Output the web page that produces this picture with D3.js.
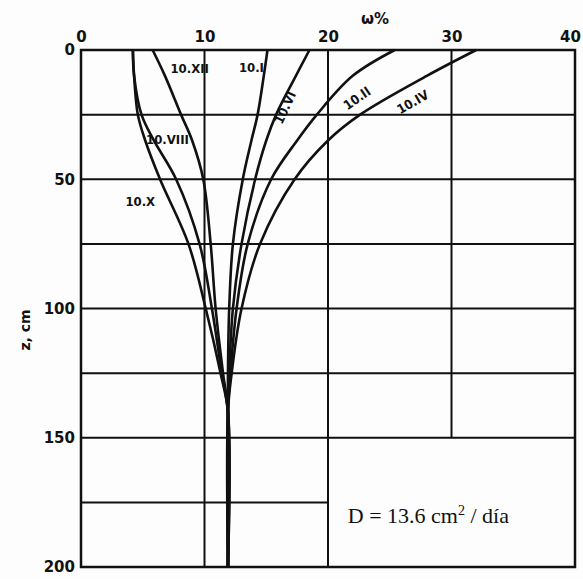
<!DOCTYPE html>
<html>
<head>
<meta charset="utf-8">
<title>Soil moisture profiles</title>
<script src="https://d3js.org/d3.v7.min.js"></script>
<style type="text/css">
body {
	margin: 0;
	background: #fdfdfd;
}
.tick text {
	font-family: "DejaVu Sans", sans-serif;
	font-weight: bold;
	font-size: 15px;
	fill: #111;
}
.curvelabel {
	font-family: "DejaVu Sans Condensed", "DejaVu Sans", sans-serif;
	font-weight: bold;
	font-size: 13px;
	fill: #111;
}
</style>
</head>
<body>
<div id="chart"></div>
<script>

// depth (cm) where the moisture of each profile was read
var depth = [0, 10, 25, 35, 50, 75, 100, 125, 140, 200];

// moisture w% of every profile at those depths
var w_IV   = [32.0, 28.0, 22.6, 20.0, 17.3, 14.5, 13.0, 12.2, 11.9, 11.9];
var w_II   = [25.4, 22.0, 19.1, 17.5, 15.4, 13.5, 12.6, 12.1, 11.9, 11.9];
var w_VI   = [18.5, 17.4, 15.8, 15.0, 14.1, 13.0, 12.3, 12.0, 11.9, 11.9];
var w_I    = [15.1, 14.8, 14.3, 13.8, 13.1, 12.3, 12.0, 11.9, 11.9, 11.9];
var w_XII  = [5.8, 6.8, 8.1, 9.0, 9.9, 10.5, 10.9, 11.5, 11.9, 11.9];
var w_VIII = [4.2, 4.3, 4.9, 5.9, 7.7, 9.6, 10.6, 11.4, 11.9, 11.9];
var w_X    = [4.2, 4.3, 4.6, 5.2, 6.4, 8.7, 10.1, 11.3, 11.9, 11.9];

var curves = [w_IV, w_II, w_VI, w_I, w_XII, w_VIII, w_X];

// tick values
var xTicks = [0, 10, 20, 30, 40];
var yTicks = [0, 50, 100, 150, 200];
var gridZ = [25, 50, 75, 100, 125, 150];

// labels: [text, w, z, rotation]
var labels = [
	["10.XII", 8.8, 7.4, 0],
	["10.I", 13.8, 7.0, 0],
	["10.VI", 16.6, 22.5, -65],
	["10.II", 22.4, 19, -35],
	["10.IV", 26.9, 20.5, -30],
	["10.VIII", 7.0, 35, 0],
	["10.X", 4.8, 59, 0]
];

var width = 583, height = 579;
var margin = {top: 50, right: 8, bottom: 12, left: 81};

var x = d3.scaleLinear().domain([0, 40]).range([margin.left, width - margin.right]);
var y = d3.scaleLinear().domain([0, 200]).range([margin.top, height - margin.bottom]);

var svg = d3.select("#chart").append("svg")
	.attr("width", width)
	.attr("height", height);

var ink = "#111";

// grid lines
var grid = svg.append("g").attr("stroke", ink).attr("stroke-width", 2);
grid.selectAll(".hz")
	.data(gridZ)
	.enter().append("line")
	.attr("x1", x(0))
	.attr("x2", x(40))
	.attr("y1", function(d) { return y(d); })
	.attr("y2", function(d) { return y(d); });
// short line at 175, only under the left part
grid.append("line")
	.attr("x1", x(0)).attr("x2", x(20))
	.attr("y1", y(175)).attr("y2", y(175));
grid.selectAll(".vt")
	.data([10, 20])
	.enter().append("line")
	.attr("x1", function(d) { return x(d); })
	.attr("x2", function(d) { return x(d); })
	.attr("y1", y(0))
	.attr("y2", y(200));
grid.append("line")
	.attr("x1", x(30)).attr("x2", x(30))
	.attr("y1", y(0)).attr("y2", y(150));

// frame
svg.append("rect")
	.attr("x", x(0))
	.attr("y", y(0))
	.attr("width", x(40) - x(0))
	.attr("height", y(200) - y(0))
	.attr("fill", "none")
	.attr("stroke", ink)
	.attr("stroke-width", 2.5);

// profiles
var line = d3.line()
	.x(function(d) { return x(d[0]); })
	.y(function(d) { return y(d[1]); })
	.curve(d3.curveCatmullRom.alpha(0.5));

svg.append("g").selectAll("path")
	.data(curves)
	.enter().append("path")
	.attr("d", function(c) { return line(c.map(function(v, i) { return [v, depth[i]]; })); })
	.attr("fill", "none")
	.attr("stroke", ink)
	.attr("stroke-width", 2.6);

// axes
var xAxis = svg.append("g")
	.attr("transform", "translate(0," + y(0) + ")")
	.call(d3.axisTop(x).tickValues(xTicks).tickSize(0).tickPadding(8));
xAxis.select(".domain").remove();
// keep the last label inside the window
xAxis.selectAll(".tick text")
	.filter(function(d) { return d === 40; })
	.attr("dx", -5);

var yAxis = svg.append("g")
	.attr("transform", "translate(" + x(0) + ",0)")
	.call(d3.axisLeft(y).tickValues(yTicks).tickSize(0).tickPadding(6));
yAxis.select(".domain").remove();

// axis titles
svg.append("text")
	.attr("x", 375)
	.attr("y", 24)
	.attr("text-anchor", "middle")
	.style("font-family", "DejaVu Sans, sans-serif")
	.style("font-weight", "bold")
	.style("font-size", "15px")
	.attr("fill", ink)
	.text("ω%");

svg.append("text")
	.attr("transform", "translate(30,330) rotate(-90)")
	.attr("text-anchor", "middle")
	.style("font-family", "DejaVu Sans, sans-serif")
	.style("font-weight", "bold")
	.style("font-size", "14px")
	.attr("fill", ink)
	.text("z, cm");

// curve labels
svg.append("g").selectAll("text")
	.data(labels)
	.enter().append("text")
	.attr("class", "curvelabel")
	.attr("text-anchor", "middle")
	.attr("dominant-baseline", "middle")
	.attr("transform", function(d) {
		return "translate(" + x(d[1]) + "," + y(d[2]) + ") rotate(" + d[3] + ")";
	})
	.text(function(d) { return d[0]; });

// diffusivity note
var note = svg.append("text")
	.attr("x", x(21.6))
	.attr("y", y(182.8))
	.style("font-family", "Liberation Serif, serif")
	.style("font-size", "22px")
	.attr("fill", ink);
note.append("tspan").text("D = 13.6 cm");
note.append("tspan").attr("dy", -8).style("font-size", "14px").text("2");
note.append("tspan").attr("dy", 8).text(" / día");

</script>
</body>
</html>
